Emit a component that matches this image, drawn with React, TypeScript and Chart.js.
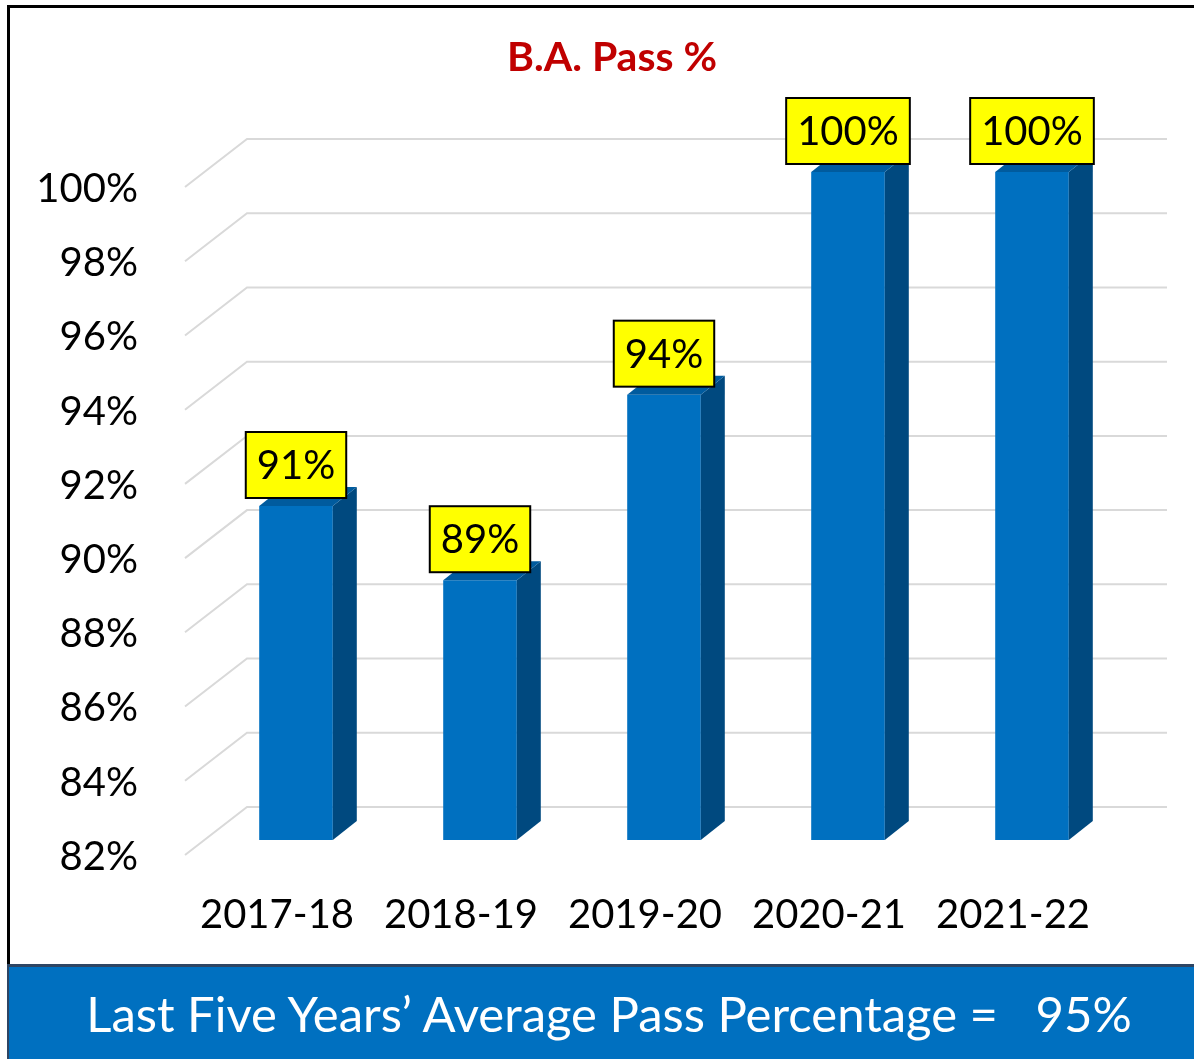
import React, { useEffect, useRef } from "react";
import { Chart, registerables } from "chart.js";

Chart.register(...registerables);

const categories = ["2017-18", "2018-19", "2019-20", "2020-21", "2021-22"];
const passPercent = [91, 89, 94, 100, 100];
const yTicks = [82, 84, 86, 88, 90, 92, 94, 96, 98, 100];
const titleText = "B.A. Pass %";
const footerText = "Last Five Years\u2019 Average Pass Percentage =   95%";

const FONT = "Lato, 'Open Sans', sans-serif";
const FRONT = "#0070C0";
const SIDE = "#00497F";
const TOP = "#005B9E";
// depth offsets
const BAR_DX = 19, BAR_DY = -15; // bar front plane vs floor front plane
const BAR_DEPTH_X = 24, BAR_DEPTH_Y = -19;
const WALL_DX = 62, WALL_DY = -48;

const threeD = {
  id: "threeD",
  beforeDatasetsDraw(chart: any) {
    const ctx = chart.ctx;
    const ys = chart.scales.y;
    const area = chart.chartArea;
    ctx.save();
    ctx.strokeStyle = "#D9D9D9";
    ctx.lineWidth = 2;
    for (const v of yTicks) {
      const y = ys.getPixelForValue(v);
      ctx.beginPath();
      ctx.moveTo(area.left, y);
      ctx.lineTo(area.left + WALL_DX, y + WALL_DY);
      ctx.lineTo(area.right + WALL_DX, y + WALL_DY);
      ctx.stroke();
    }
    ctx.restore();
    ctx.save();
    ctx.translate(BAR_DX, BAR_DY);
  },
  afterDatasetsDraw(chart: any) {
    const ctx = chart.ctx;
    ctx.restore();
    const meta = chart.getDatasetMeta(0);
    meta.data.forEach((bar: any) => {
      const p = bar.getProps(["x", "y", "base", "width"], true);
      const x1 = p.x - p.width / 2 + BAR_DX;
      const x2 = p.x + p.width / 2 + BAR_DX;
      const t = p.y + BAR_DY;
      const b = p.base + BAR_DY;
      // side face
      ctx.fillStyle = SIDE;
      ctx.beginPath();
      ctx.moveTo(x2, t);
      ctx.lineTo(x2 + BAR_DEPTH_X, t + BAR_DEPTH_Y);
      ctx.lineTo(x2 + BAR_DEPTH_X, b + BAR_DEPTH_Y);
      ctx.lineTo(x2, b);
      ctx.closePath();
      ctx.fill();
      // top face
      ctx.fillStyle = TOP;
      ctx.beginPath();
      ctx.moveTo(x1, t);
      ctx.lineTo(x2, t);
      ctx.lineTo(x2 + BAR_DEPTH_X, t + BAR_DEPTH_Y);
      ctx.lineTo(x1 + BAR_DEPTH_X, t + BAR_DEPTH_Y);
      ctx.closePath();
      ctx.fill();
    });
    // data labels
    ctx.save();
    ctx.font = `40px ${FONT}`;
    ctx.textAlign = "center";
    ctx.textBaseline = "middle";
    meta.data.forEach((bar: any, i: number) => {
      const p = bar.getProps(["x", "y"], true);
      const label = passPercent[i] + "%";
      const w = ctx.measureText(label).width + 22;
      const h = 66;
      const cx = p.x + BAR_DX;
      const bottom = p.y + BAR_DY - 8;
      ctx.fillStyle = "#FFFF00";
      ctx.fillRect(cx - w / 2, bottom - h, w, h);
      ctx.strokeStyle = "#000000";
      ctx.lineWidth = 2;
      ctx.strokeRect(cx - w / 2, bottom - h, w, h);
      ctx.fillStyle = "#000000";
      ctx.fillText(label, cx, bottom - h / 2 + 1);
    });
    // title
    ctx.font = `bold 41px ${FONT}`;
    ctx.fillStyle = "#C00000";
    ctx.fillText(titleText, 612, 58);
    ctx.restore();
  },
};

export default function App() {
  const ref = useRef<HTMLCanvasElement | null>(null);
  useEffect(() => {
    if (!ref.current) return;
    const chart = new Chart(ref.current, {
      type: "bar",
      data: {
        labels: categories,
        datasets: [
          {
            label: "B.A. Pass %",
            data: passPercent,
            backgroundColor: FRONT,
            borderWidth: 0,
            barPercentage: 0.4,
            categoryPercentage: 1,
            base: 82,
            clip: false as any,
          } as any,
        ],
      },
      options: {
        animation: false,
        responsive: false,
        maintainAspectRatio: false,
        events: [],
        layout: { padding: { left: 0, right: 89, top: 187, bottom: 10 } },
        plugins: {
          legend: { display: false },
          title: { display: false },
          tooltip: { enabled: false },
        },
        scales: {
          x: {
            grid: { display: false, drawTicks: false },
            border: { display: false },
            ticks: {
              color: "#000000",
              font: { family: FONT, size: 40 },
              padding: 36,
              maxRotation: 0,
              autoSkip: false,
            },
            afterFit(scale: any) {
              scale.height = 100;
            },
          },
          y: {
            min: 82,
            max: 100,
            grid: { display: false, drawTicks: false },
            border: { display: false },
            ticks: {
              stepSize: 2,
              color: "#000000",
              font: { family: FONT, size: 40 },
              padding: 47,
              labelOffset: 2,
              callback: (v: any) => v + "%",
            },
            afterFit(scale: any) {
              scale.width = 185;
            },
          },
        },
      },
      plugins: [threeD],
    });
    return () => chart.destroy();
  }, []);

  return (
    <div
      style={{
        position: "fixed",
        left: 0,
        top: 0,
        width: 1194,
        height: 1059,
        background: "#FFFFFF",
        overflow: "hidden",
      }}
    >
      <canvas
        ref={ref}
        width={1194}
        height={965}
        style={{ position: "absolute", left: 0, top: 0, width: 1194, height: 965 }}
      />
      <div
        style={{
          position: "absolute",
          left: 7,
          top: 5,
          width: 1190,
          height: 962,
          borderLeft: "3px solid #000000",
          borderTop: "3px solid #000000",
          boxSizing: "border-box",
          pointerEvents: "none",
        }}
      />
      <div
        style={{
          position: "absolute",
          left: 7,
          top: 964,
          width: 1190,
          height: 98,
          background: "#0070C0",
          borderTop: "3px solid #2E4563",
          borderLeft: "2px solid #2E4563",
          boxSizing: "border-box",
          color: "#FFFFFF",
          fontFamily: FONT,
          fontSize: 49,
          display: "flex",
          alignItems: "center",
          justifyContent: "center",
          paddingBottom: 4,
          paddingLeft: 12,
          whiteSpace: "pre",
        }}
      >
        {footerText}
      </div>
    </div>
  );
}
